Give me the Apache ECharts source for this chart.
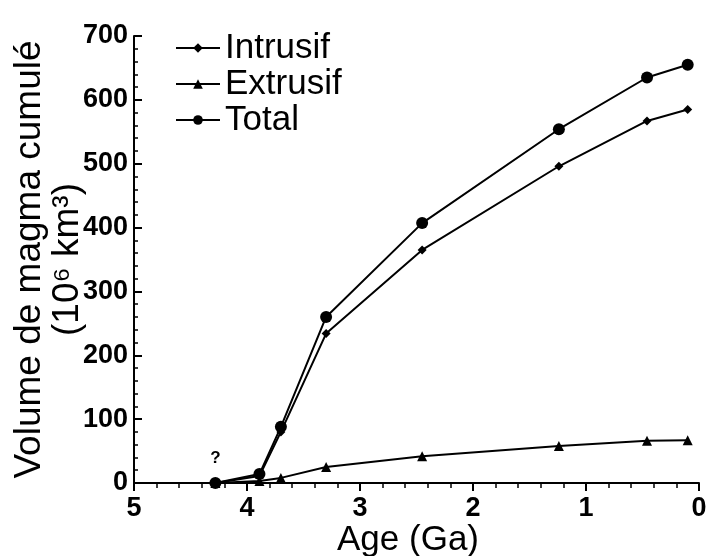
<!DOCTYPE html>
<html>
<head>
<meta charset="utf-8">
<script src="https://cdn.jsdelivr.net/npm/echarts@6/dist/echarts.min.js"></script>
<style>
html,body{margin:0;padding:0;background:#fff;}
#c{width:706px;height:556px;}
</style>
</head>
<body>
<div id="c"></div>
<script>
// Data
const ages     = [4.28, 3.89, 3.70, 3.30, 2.45, 1.24, 0.46, 0.10];
const intrusif = [0, 11, 80, 234, 365, 496, 567, 585];
const extrusif = [0, 3, 8, 25, 42, 58, 66, 67];
const total    = [0, 14, 88, 260, 407, 554, 635, 655];
const seriesNames = ['Intrusif', 'Extrusif', 'Total'];
const xTicks = [0, 1, 2, 3, 4, 5];
const yTicks = [0, 100, 200, 300, 400, 500, 600, 700];
const unknownLabel = '?';

const FONT = '"Liberation Sans", Arial, Helvetica, sans-serif';

function pairs(vals, labelFirst) {
  return ages.map((a, i) => {
    const item = { value: [a, vals[i]] };
    if (labelFirst && i === 0) {
      item.label = {
        show: true, formatter: unknownLabel, position: 'top', distance: 10,
        fontFamily: FONT, fontSize: 17, fontWeight: 'bold', color: '#000'
      };
    }
    return item;
  });
}

const chart = echarts.init(document.getElementById('c'), null, { renderer: 'canvas' });
const common = {
  type: 'line',
  lineStyle: { color: '#000', width: 2 },
  itemStyle: { color: '#000' },
  emphasis: { disabled: true },
  animation: false,
  z: 3
};
chart.setOption({
  backgroundColor: '#fff',
  animation: false,
  grid: { left: 134, right: 7, top: 36, bottom: 73, containLabel: false, outerBoundsMode: 'none' },
  legend: {
    orient: 'vertical', left: 175, top: 30, padding: 0,
    itemWidth: 44, itemHeight: 12, itemGap: 0,
    data: seriesNames,
    textStyle: { fontFamily: FONT, fontSize: 35, color: '#000', lineHeight: 36 },
    inactiveColor: '#000'
  },
  xAxis: {
    type: 'value', inverse: true, min: 0, max: 5, interval: 1,
    name: 'Age (Ga)', nameLocation: 'middle', nameGap: 40, nameMoveOverlap: false,
    nameTextStyle: { fontFamily: FONT, fontSize: 35, color: '#000', padding: [0, 17, 0, 0] },
    axisLine: { show: true, onZero: false, lineStyle: { color: '#000', width: 2 } },
    axisTick: { show: true, inside: false, length: 8, lineStyle: { color: '#000', width: 2 } },
    minorTick: { show: true, splitNumber: 5, length: 5, lineStyle: { color: '#000', width: 1.5 } },
    splitLine: { show: false },
    axisLabel: {
      fontFamily: FONT, fontSize: 27, fontWeight: 'bold', color: '#000', margin: 12,
      formatter: v => xTicks.includes(v) ? String(v) : ''
    }
  },
  yAxis: {
    type: 'value', position: 'left', min: 0, max: 700, interval: 100,
    name: 'Volume de magma cumulé\n(10⁶ km³)', nameLocation: 'middle', nameGap: 47, nameMoveOverlap: false,
    nameTextStyle: { fontFamily: FONT, fontSize: 37, color: '#000', lineHeight: 38 },
    axisLine: { show: true, onZero: false, lineStyle: { color: '#000', width: 2 } },
    axisTick: { show: true, inside: true, length: 8, lineStyle: { color: '#000', width: 2 } },
    minorTick: { show: true, splitNumber: 5, length: 4, lineStyle: { color: '#000', width: 1.5 } },
    splitLine: { show: false },
    axisLabel: {
      fontFamily: FONT, fontSize: 27, fontWeight: 'bold', color: '#000', margin: 6,
      formatter: v => yTicks.includes(v) ? String(v) : ''
    }
  },
  series: [
    Object.assign({}, common, { name: seriesNames[0], data: pairs(intrusif, false), symbol: 'diamond', symbolSize: 9 }),
    Object.assign({}, common, { name: seriesNames[1], data: pairs(extrusif, false), symbol: 'triangle', symbolSize: 10 }),
    Object.assign({}, common, { name: seriesNames[2], data: pairs(total, true), symbol: 'circle', symbolSize: 12 })
  ]
});
</script>
</body>
</html>
